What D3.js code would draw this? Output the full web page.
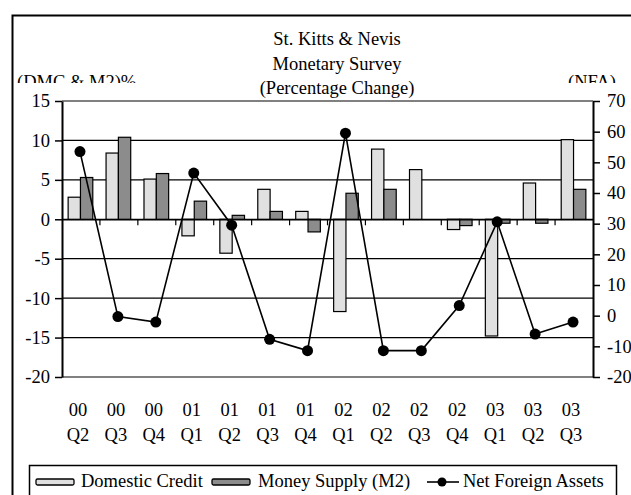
<!DOCTYPE html>
<html>
<head>
<meta charset="utf-8">
<script src="https://cdn.jsdelivr.net/npm/d3@7.9.0/dist/d3.min.js"></script>
<style>
  html, body { margin: 0; padding: 0; background: #fff; }
  svg { display: block; font-family: "Liberation Serif", "Times New Roman", serif; }
  svg text { font-family: "Liberation Serif", "Times New Roman", serif; }
</style>
</head>
<body>
<div id="chart"></div>
<script>
const years = ['00', '00', '00', '01', '01', '01', '01', '02', '02', '02', '02', '03', '03', '03'];
const quarters = ['Q2', 'Q3', 'Q4', 'Q1', 'Q2', 'Q3', 'Q4', 'Q1', 'Q2', 'Q3', 'Q4', 'Q1', 'Q2', 'Q3'];
const domesticCredit = [2.8, 8.4, 5.1, -2.1, -4.3, 3.8, 1.0, -11.7, 8.9, 6.3, -1.3, -14.8, 4.6, 10.1];
const moneySupply = [5.3, 10.4, 5.8, 2.3, 0.5, 1.0, -1.6, 3.3, 3.8, 0, -0.8, -0.5, -0.5, 3.8];
const netForeignAssets = [53.5, -0.3, -2.1, 46.5, 29.5, -7.7, -11.4, 59.5, -11.4, -11.4, 3.3, 30.6, -6.0, -2.1];
const leftTicks = [-20, -15, -10, -5, 0, 5, 10, 15];
const rightTicks = [-20, -10, 0, 10, 20, 30, 40, 50, 60, 70];
const titleLines = ['St. Kitts & Nevis', 'Monetary Survey', '(Percentage Change)'];

const W = 631, H = 495;
const plot = { left: 62, right: 593, top: 101, bottom: 377 };
const keys = d3.range(years.length);
const FS = 18.5;

const svg = d3.select('#chart').append('svg')
  .attr('width', W).attr('height', H);

// outer frame (runs off the right and bottom edges)
svg.append('rect')
  .attr('x', 12.5).attr('y', 15.5).attr('width', 640).attr('height', 500)
  .attr('fill', 'none').attr('stroke', '#000').attr('stroke-width', 2);

const x = d3.scaleBand().domain(keys).range([plot.left, plot.right]).padding(0);
const yL = d3.scaleLinear().domain([-20, 15]).range([plot.bottom, plot.top]);
const yR = d3.scaleLinear().domain([-20, 70]).range([plot.bottom, plot.top]);
const barW = x.bandwidth() * 0.325;

// titles
svg.append('g').selectAll('text')
  .data(titleLines).enter().append('text')
  .attr('x', 337).attr('y', (d, i) => 45 + i * 24.5)
  .attr('text-anchor', 'middle').attr('font-size', FS)
  .text(d => d);

// axis captions, clipped at the bottom like the original
svg.append('clipPath').attr('id', 'capclip')
  .append('rect').attr('x', 0).attr('y', 0).attr('width', W).attr('height', 83);
const caps = svg.append('g').attr('clip-path', 'url(#capclip)').attr('font-size', FS);
caps.append('text').attr('x', 17).attr('y', 88).text('(DMC & M2)%');
caps.append('text').attr('x', 568).attr('y', 88).text('(NFA)');

// gridlines
svg.append('g').selectAll('line')
  .data(leftTicks.filter(v => v > -20 && v < 15)).enter().append('line')
  .attr('x1', plot.left).attr('x2', plot.right)
  .attr('y1', d => yL(d)).attr('y2', d => yL(d))
  .attr('stroke', '#000').attr('stroke-width', 1.2);

// plot border top / bottom (gray)
[15, -20].forEach(v => {
  svg.append('line')
    .attr('x1', plot.left).attr('x2', plot.right)
    .attr('y1', yL(v)).attr('y2', yL(v))
    .attr('stroke', '#808080').attr('stroke-width', 2);
});

// bars
const bars = svg.append('g');
bars.selectAll('rect.dc')
  .data(domesticCredit).enter().append('rect')
  .attr('x', (d, i) => x(i) + x.bandwidth() / 2 - barW - 0.5)
  .attr('y', d => yL(Math.max(0, d)))
  .attr('width', barW)
  .attr('height', d => Math.abs(yL(d) - yL(0)))
  .attr('fill', '#e0e0e0').attr('stroke', '#000').attr('stroke-width', 1.2);
bars.selectAll('rect.m2')
  .data(moneySupply).enter().append('rect')
  .attr('x', (d, i) => x(i) + x.bandwidth() / 2 - 0.5)
  .attr('y', d => yL(Math.max(0, d)))
  .attr('width', barW)
  .attr('height', d => Math.abs(yL(d) - yL(0)))
  .attr('fill', '#8c8c8c').attr('stroke', '#000').attr('stroke-width', 1.2)
  .attr('display', d => d === 0 ? 'none' : null);

// category axis at zero
const xAxis = svg.append('g')
  .attr('transform', `translate(0,${yL(0)})`)
  .call(d3.axisBottom(x).tickValues([]).tickSizeOuter(0));
xAxis.select('.domain').attr('stroke', '#000').attr('stroke-width', 1.5);
svg.append('g').selectAll('line')
  .data(keys.slice(1)).enter().append('line')
  .attr('x1', d => x(d)).attr('x2', d => x(d))
  .attr('y1', yL(0)).attr('y2', yL(0) + 6)
  .attr('stroke', '#000').attr('stroke-width', 1.2);

// category labels
const labels = svg.append('g').attr('font-size', FS).attr('text-anchor', 'middle');
labels.selectAll('text.yr')
  .data(years).enter().append('text')
  .attr('x', (d, i) => x(i) + x.bandwidth() / 2 - 3)
  .attr('y', 416).text(d => d);
labels.selectAll('text.q')
  .data(quarters).enter().append('text')
  .attr('x', (d, i) => x(i) + x.bandwidth() / 2 - 3)
  .attr('y', 441).text(d => d);

// left axis
const axL = svg.append('g')
  .attr('transform', `translate(${plot.left},0)`)
  .call(d3.axisLeft(yL).tickValues(leftTicks).tickFormat(d => String(d))
    .tickSize(7).tickSizeOuter(0).tickPadding(5));
axL.select('.domain').attr('stroke', '#000').attr('stroke-width', 2);
axL.selectAll('.tick line').attr('stroke', '#000').attr('stroke-width', 1.5);
axL.selectAll('.tick text').attr('font-size', FS).attr('font-family', 'Liberation Serif').attr('fill', '#000');

// right axis
const axR = svg.append('g')
  .attr('transform', `translate(${plot.right},0)`)
  .call(d3.axisRight(yR).tickValues(rightTicks).tickFormat(d => String(d))
    .tickSize(7).tickSizeOuter(0).tickPadding(7));
axR.select('.domain').attr('stroke', '#000').attr('stroke-width', 2);
axR.selectAll('.tick line').attr('stroke', '#000').attr('stroke-width', 1.5);
axR.selectAll('.tick text').attr('font-size', FS).attr('font-family', 'Liberation Serif').attr('fill', '#000');

// NFA line
const cx = i => x(i) + x.bandwidth() / 2 - 1;
const line = d3.line().x((d, i) => cx(i)).y(d => yR(d));
svg.append('path')
  .datum(netForeignAssets)
  .attr('d', line)
  .attr('fill', 'none').attr('stroke', '#000').attr('stroke-width', 1.6);
svg.append('g').selectAll('circle')
  .data(netForeignAssets).enter().append('circle')
  .attr('cx', (d, i) => cx(i)).attr('cy', d => yR(d)).attr('r', 5.5)
  .attr('fill', '#000');

// legend
const lg = svg.append('g').attr('font-size', FS);
lg.append('rect')
  .attr('x', 29.5).attr('y', 465.5).attr('width', 587).attr('height', 60)
  .attr('fill', '#fff').attr('stroke', '#000').attr('stroke-width', 1.5);
const legendItems = [
  { label: 'Domestic Credit', fill: '#e0e0e0', sx: 36, tx: 81 },
  { label: 'Money Supply (M2)', fill: '#8c8c8c', sx: 212, tx: 258 },
];
legendItems.forEach(d => {
  lg.append('rect').attr('x', d.sx).attr('y', 479).attr('width', 38).attr('height', 6)
    .attr('rx', 1.5)
    .attr('fill', d.fill).attr('stroke', '#000').attr('stroke-width', 1.3);
  lg.append('text').attr('x', d.tx).attr('y', 487).text(d.label);
});
lg.append('line').attr('x1', 427).attr('x2', 459).attr('y1', 482).attr('y2', 482)
  .attr('stroke', '#000').attr('stroke-width', 1.6);
lg.append('circle').attr('cx', 442).attr('cy', 482).attr('r', 4.5).attr('fill', '#000');
lg.append('text').attr('x', 463).attr('y', 487).text('Net Foreign Assets');
</script>
</body>
</html>
